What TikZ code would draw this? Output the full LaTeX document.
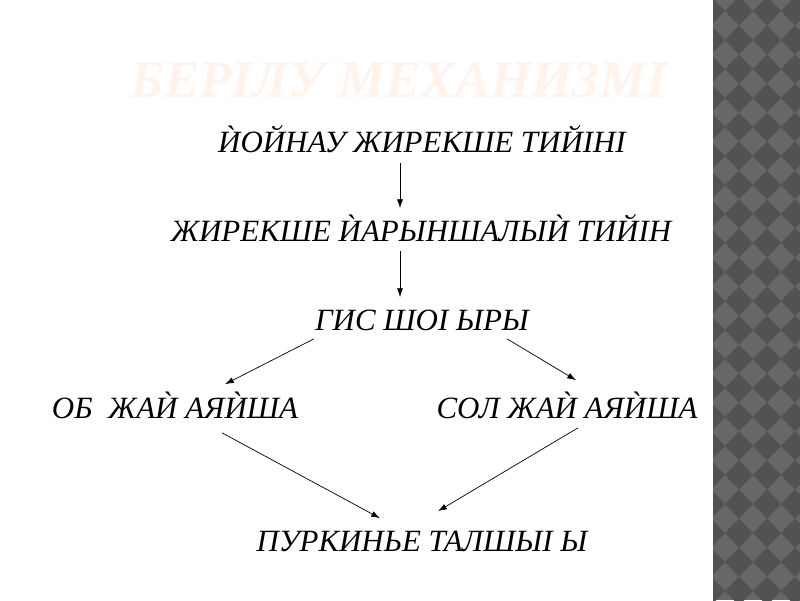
\documentclass[tikz,border=0pt]{standalone}
\usepackage{fontspec}
\setmainfont{Liberation Serif}
\usetikzlibrary{arrows.meta}

\definecolor{titlepeach}{RGB}{255,243,235}
\definecolor{stripdark}{RGB}{82,82,82}
\definecolor{striplight}{RGB}{103,103,103}

\begin{document}
\begin{tikzpicture}[x=0.025cm, y=-0.025cm,
    word/.style={inner sep=0pt, text height=15pt, text depth=0pt,
      font=\fontsize{22}{24}\selectfont\itshape},
    link/.style={-{Latex[length=2.2mm,width=1.5mm]}, line width=0.5pt}]

    \useasboundingbox (0,0) rectangle (800,600);

    % Gray diamond strip on the right
    \begin{scope}
      \clip (713,0) rectangle (800,600);
      \fill[striplight] (713,0) rectangle (800,600);
      \foreach \i in {0,...,4} {
        \foreach \j in {-1,...,21} {
          \fill[stripdark] (697+28*\i,11+29*\j) -- ++(14,-14.5) -- ++(14,14.5)
            -- ++(-14,14.5) -- cycle;
        }
      }
    \end{scope}

    % Faint title
    \node[font=\fontsize{37.5}{40}\selectfont\bfseries\itshape, text=titlepeach]
      (title) at (399,80) {БЕРІЛУ МЕХАНИЗМІ};

    % Chain of nodes
    \node[word] (yoinau) at (422,142) {ЍОЙНАУ ЖИРЕКШЕ ТИЙІНІ};
    \node[word] (atrio) at (421,231) {ЖИРЕКШЕ ЍАРЫНШАЛЫЍ ТИЙІН};
    \node[word] (his) at (422,320) {ГИС ШОІ ЫРЫ};
    \node[word] (leftleg) at (175,408) {ОБ\ \ ЖАЍ АЯЍША};
    \node[word] (rightleg) at (567,408) {СОЛ ЖАЍ АЯЍША};
    \node[word] (purk) at (422,541) {ПУРКИНЬЕ ТАЛШЫІ Ы};

    % Arrows
    \draw[link] ([shift={(-22,10)}]yoinau.south) -- ([shift={(-21,-12)}]atrio.north);
    \draw[link] ([shift={(-21,9)}]atrio.south) -- ([shift={(-22,-12)}]his.north);
    \draw[link] ([shift={(-108,8)}]his.south) -- ([shift={(50,-13)}]leftleg.north);
    \draw[link] ([shift={(85,8)}]his.south) -- ([shift={(9,-17)}]rightleg.north);
    \draw[link] ([shift={(47,14)}]leftleg.south) -- ([shift={(-42,-12)}]purk.north);
    \draw[link] ([shift={(11,9)}]rightleg.south) -- ([shift={(16,-19)}]purk.north);

\end{tikzpicture}
\end{document}
